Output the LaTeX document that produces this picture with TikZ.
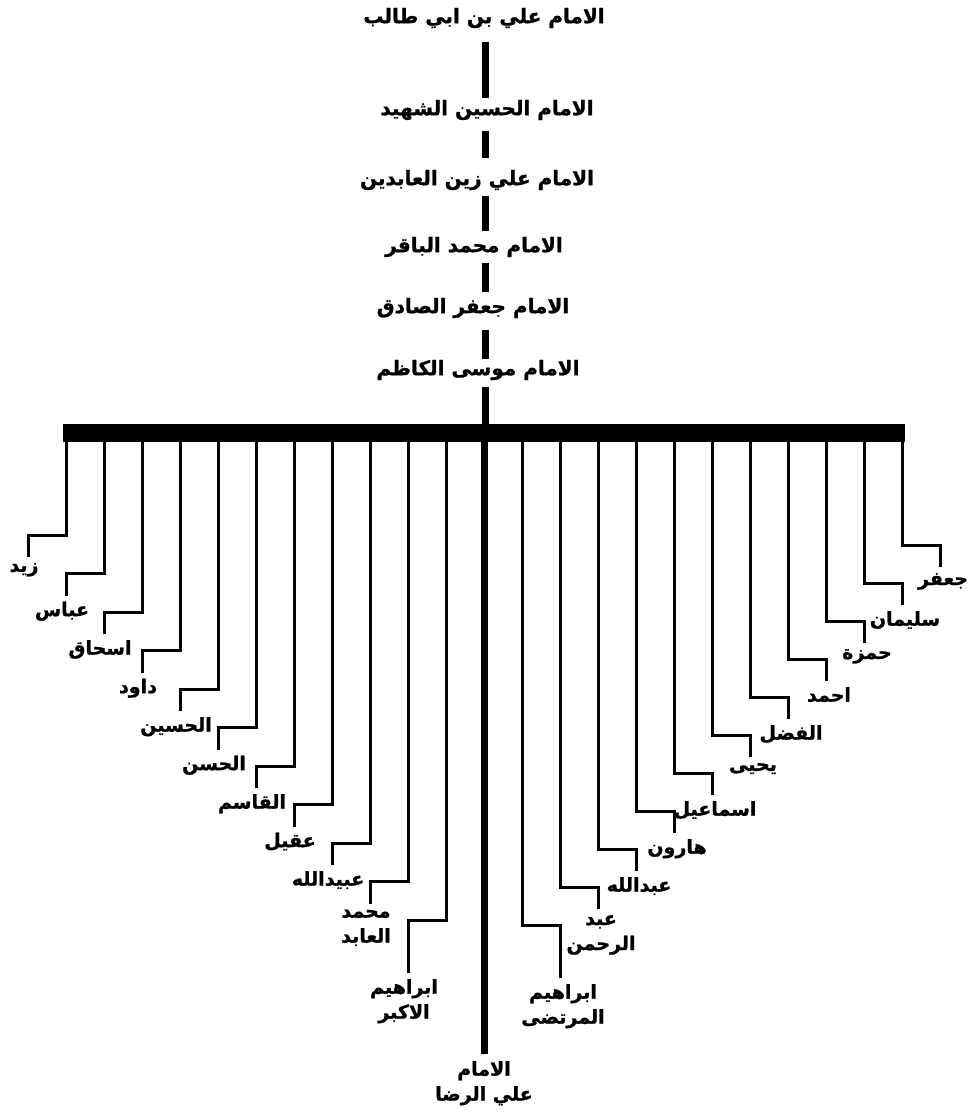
\documentclass[tikz,border=0pt]{standalone}
\usepackage{fontspec}
\usetikzlibrary{calc}
\TeXXeTstate=1
\newfontfamily\arabicfont[Script=Arabic, BoldFeatures={FakeBold=1.2}]{DejaVu Sans}
\newcommand{\ar}[1]{\beginR #1\endR}

\tikzset{
  imam/.style={font=\arabicfont\bfseries\fontsize{20}{24}\selectfont, inner sep=0pt},
  child/.style={font=\arabicfont\bfseries\fontsize{19}{25}\selectfont, inner xsep=0pt, inner ysep=6pt, align=center, anchor=north},
  spine/.style={line width=7pt},
  branch/.style={line width=3pt},
  barbox/.style={fill=black, minimum width=842pt, minimum height=18pt, inner sep=0pt},
}

\begin{document}
\begin{tikzpicture}[x=1pt,y=-1pt]
  \useasboundingbox (0,0) rectangle (969,1116);
  \coordinate (spine) at (485,0);

  % the line of imams
  \node[imam] (ali)    at (484,18)  {\ar{الامام علي بن ابي طالب}};
  \node[imam] (shahid) at (487,110) {\ar{الامام الحسين الشهيد}};
  \node[imam] (zayn)   at (477,180) {\ar{الامام علي زين العابدين}};
  \node[imam] (baqir)  at (474,247) {\ar{الامام محمد الباقر}};
  \node[imam] (sadiq)  at (473,308) {\ar{الامام جعفر الصادق}};
  \node[imam] (kazim)  at (478,370) {\ar{الامام موسى الكاظم}};

  \draw[spine, shorten <=14pt, shorten >=2pt] (ali.south -| spine) -- (shahid.north -| spine);
  \draw[spine, shorten <=11pt, shorten >=12pt] (shahid.south -| spine) -- (zayn.north -| spine);
  \draw[spine, shorten <=6pt, shorten >=6pt] (zayn.south -| spine) -- (baqir.north -| spine);
  \draw[spine, shorten <=6pt, shorten >=6pt] (baqir.south -| spine) -- (sadiq.north -| spine);
  \draw[spine, shorten <=12pt, shorten >=1pt] (sadiq.south -| spine) -- (kazim.north -| spine);

  \node[barbox] (bar) at (484,433) {};
  \draw[spine, shorten <=7pt] (kazim.south -| spine) -- (bar.center -| spine);

  \node[child, inner ysep=7pt] (rida) at (484,1054) {\ar{الامام}\\\ar{علي الرضا}};
  \draw[spine] (bar.center) -- (rida.north);

  % sons on the left
  \foreach \name/\txt/\len [count=\i from 0] in {
      zayd/{\ar{زيد}}/22, abbas/{\ar{عباس}}/22, ishaq/{\ar{اسحاق}}/22,
      dawud/{\ar{داود}}/22, husayn/{\ar{الحسين}}/22, hasan/{\ar{الحسن}}/22,
      qasim/{\ar{القاسم}}/22, aqil/{\ar{عقيل}}/22, ubaydallah/{\ar{عبيدالله}}/22,
      muhammad/{\ar{محمد}\\\ar{العابد}}/22, ibrahimA/{\ar{ابراهيم}\\\ar{الاكبر}}/53}{
    \pgfmathsetmacro\dx{66+38*\i}
    \pgfmathsetmacro\sy{535+38.5*\i}
    \coordinate (d\name) at (\dx,433);
    \coordinate (s\name) at (\dx-38,\sy);
    \node[child] (\name) at ([xshift=-4pt, yshift=-\len pt]s\name) {\txt};
    \draw[branch] (d\name) |- (s\name) -- (s\name |- \name.north);
  }

  % sons on the right
  \foreach \name/\txt/\len [count=\i from 0] in {
      jafar/{\ar{جعفر}}/22, sulayman/{\ar{سليمان}}/22, hamza/{\ar{حمزة}}/22,
      ahmad/{\ar{احمد}}/22, fadl/{\ar{الفضل}}/22, yahya/{\ar{يحيى}}/22,
      ismail/{\ar{اسماعيل}}/22, harun/{\ar{هارون}}/22, abdallah/{\ar{عبدالله}}/22,
      abdrahman/{\ar{عبد}\\\ar{الرحمن}}/22, ibrahimM/{\ar{ابراهيم}\\\ar{المرتضى}}/53}{
    \pgfmathsetmacro\dx{902-38*\i}
    \pgfmathsetmacro\sy{545+38*\i}
    \coordinate (d\name) at (\dx,433);
    \coordinate (s\name) at (\dx+38,\sy);
    \node[child] (\name) at ([xshift=3pt, yshift=-\len pt]s\name) {\txt};
    \draw[branch] (d\name) |- (s\name) -- (s\name |- \name.north);
  }
\end{tikzpicture}
\end{document}
